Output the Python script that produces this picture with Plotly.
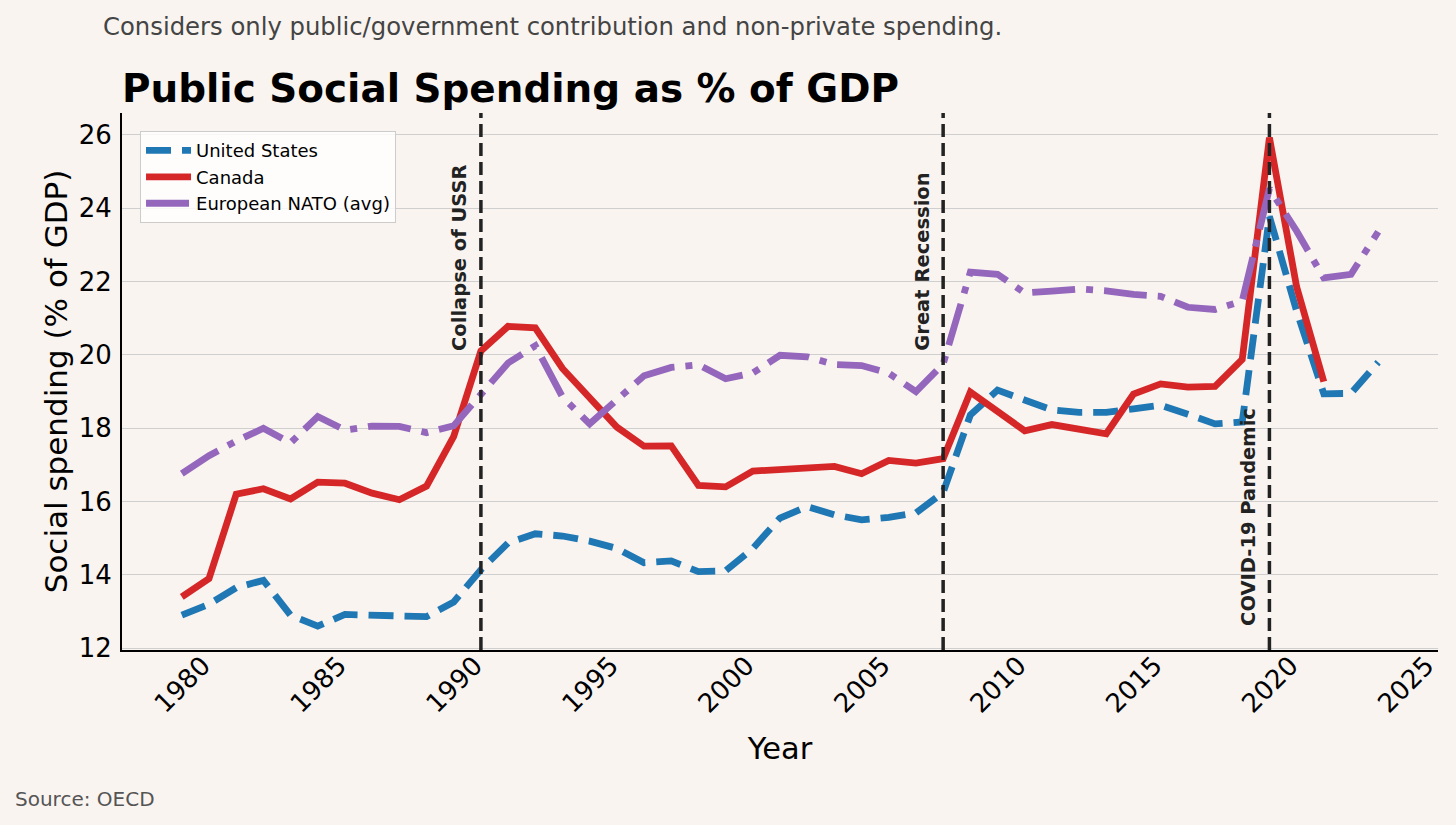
import plotly.graph_objects as go

years = list(range(1980, 2025))

us_spending = [12.90, 13.20, 13.65, 13.85, 12.90, 12.60, 12.92, 12.90, 12.86, 12.86,
               13.26, 14.14, 14.87, 15.12, 15.06, 14.92, 14.72, 14.33, 14.38, 14.09,
               14.11, 14.72, 15.55, 15.86, 15.64, 15.50, 15.57, 15.69, 16.25, 18.36,
               19.04, 18.77, 18.50, 18.43, 18.43, 18.53, 18.63, 18.38, 18.12, 18.17,
               23.78, 21.20, 18.94, 18.95, 19.80]

canada_spending = [13.40, 13.90, 16.20, 16.35, 16.07, 16.53, 16.50, 16.23, 16.05, 16.42,
                   17.78, 20.11, 20.78, 20.74, 19.63, 18.80, 18.03, 17.51, 17.52, 16.44,
                   16.40, 16.83, 16.86, 16.93, 16.96, 16.76, 17.12, 17.05, 17.17, 18.99,
                   18.46, 17.93, 18.10, 17.96, 17.85, 18.93, 19.21, 19.12, 19.14, 19.88,
                   25.93, 21.86, 19.27, None, None]

euro_nato_spending = [16.76, 17.25, 17.65, 18.00, 17.60, 18.32, 17.95, 18.06, 18.05, 17.88,
                      18.07, 18.96, 19.78, 20.25, 18.85, 18.12, 18.80, 19.43, 19.66, 19.73,
                      19.35, 19.51, 19.99, 19.95, 19.74, 19.71, 19.50, 19.00, 19.75, 22.26,
                      22.20, 21.69, 21.74, 21.80, 21.75, 21.65, 21.60, 21.30, 21.24, 21.47,
                      24.54, 23.38, 22.10, 22.20, 23.36]

event_years = [1991, 2008, 2020]
event_labels = ["Collapse of USSR", "Great Recession", "COVID-19 Pandemic"]
label_y = [20.05, 20.05, 12.55]

bg = "#f9f4f0"
font_family = "DejaVu Sans"

fig = go.Figure()

fig.add_trace(go.Scatter(x=years, y=us_spending, mode="lines", name="United States",
                         line=dict(color="#1f77b4", width=6.8, dash="25px,11px")))
fig.add_trace(go.Scatter(x=years, y=canada_spending, mode="lines", name="Canada",
                         line=dict(color="#d62728", width=6.8)))
fig.add_trace(go.Scatter(x=years, y=euro_nato_spending, mode="lines", name="European NATO (avg)",
                         line=dict(color="#9467bd", width=6.8, dash="43px,11px,7px,11px")))

# event markers: dashed verticals with rotated labels
for yr, lab, ly in zip(event_years, event_labels, label_y):
    fig.add_shape(type="line", x0=yr, x1=yr, y0=0, y1=1, xref="x", yref="paper",
                  line=dict(color="#222222", width=3.5, dash="13px,6px"))
    fig.add_annotation(x=yr, y=ly, xref="x", yref="y", text="<b>" + lab + "</b>",
                       textangle=-90, showarrow=False, xanchor="right", yanchor="bottom",
                       xshift=-8, font=dict(family=font_family, size=19.5, color="#222222"))

fig.add_annotation(text="Considers only public/government contribution and non-private spending.",
                   xref="paper", yref="paper", x=-0.016, y=1.162, xanchor="left", yanchor="middle",
                   showarrow=False, font=dict(family=font_family, size=24.3, color="#444444"))
fig.add_annotation(text="Source: OECD", xref="paper", yref="paper", x=-0.0828, y=-0.278,
                   xanchor="left", yanchor="middle", showarrow=False,
                   font=dict(family=font_family, size=20, color="#555555"))

fig.update_layout(
    width=1456, height=825,
    paper_bgcolor=bg, plot_bgcolor=bg,
    margin=dict(l=122, r=18, t=113, b=175),
    font=dict(family=font_family, color="black"),
    title=dict(text="<b>Public Social Spending as % of GDP</b>", x=0, xref="paper", xanchor="left",
               y=1 - 88 / 825, yref="container", yanchor="middle",
               font=dict(family=font_family, size=38.9, color="black")),
    legend=dict(x=0.0137, y=0.966, xanchor="left", yanchor="top",
                bgcolor="rgba(255,255,255,0.8)", bordercolor="#cccccc", borderwidth=1,
                font=dict(family=font_family, size=18), itemwidth=45),
    showlegend=True,
)

fig.update_xaxes(range=[1977.8, 2026.2], dtick=5, tick0=1980, tickangle=-45,
                 showgrid=False, zeroline=False, showline=True, linecolor="black", linewidth=2,
                 ticks="", tickfont=dict(size=26), ticklabelshift=21, ticklabelstandoff=-12,
                 title=dict(text="Year", font=dict(size=30.5), standoff=20))
fig.update_yaxes(range=[11.95, 26.6], dtick=2, tick0=12,
                 showgrid=True, gridcolor="#cfcfcf", gridwidth=1.2, zeroline=False,
                 showline=True, linecolor="black", linewidth=2,
                 ticks="", tickfont=dict(size=26), ticklabelstandoff=3,
                 title=dict(text="Social spending (% of GDP)", font=dict(size=31), standoff=2))

fig.write_html("out.html", config={"displayModeBar": False},
               post_script="document.body.style.margin='0';")
